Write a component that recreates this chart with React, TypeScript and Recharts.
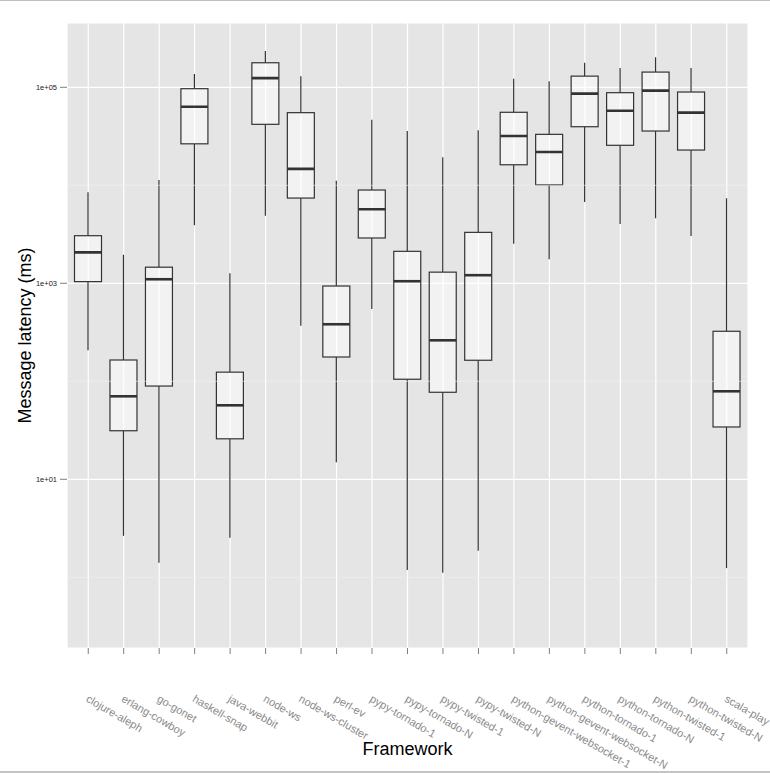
import { ComposedChart, Bar, XAxis, YAxis, CartesianGrid, ReferenceLine, Label } from "recharts";

// message latency per framework, in ms
const frameworks = [
  "clojure-aleph", "erlang-cowboy", "go-gonet", "haskell-snap", "java-webbit",
  "node-ws", "node-ws-cluster", "perl-ev", "pypy-tornado-1", "pypy-tornado-N",
  "pypy-twisted-1", "pypy-twisted-N", "python-gevent-websocket-1", "python-gevent-websocket-N",
  "python-tornado-1", "python-tornado-N", "python-twisted-1", "python-twisted-N", "scala-play",
];
const whiskerLow = [208, 2.65, 1.41, 3910, 2.54, 4900, 369, 14.9, 547, 1.19, 1.11, 1.87, 2540, 1760, 6760, 4030, 4600, 3040, 1.24];
const lowerQuartile = [1040, 31.3, 89.5, 26500, 25.9, 41900, 7410, 177, 2900, 105, 77.3, 164, 16200, 10100, 39600, 25600, 35800, 22900, 34.2];
const medians = [2070, 70.3, 1100, 63400, 56.9, 124000, 14700, 382, 5690, 1050, 262, 1210, 31800, 21900, 86100, 57700, 92500, 55100, 79.1];
const upperQuartile = [3060, 165, 1460, 96800, 124, 178000, 55100, 938, 8950, 2120, 1300, 3310, 55600, 33100, 130000, 88100, 143000, 89500, 324];
const whiskerHigh = [8490, 1960, 11300, 137000, 1270, 234000, 130000, 11100, 46700, 35800, 19300, 36400, 122000, 115000, 178000, 157000, 202000, 157000, 7360];

const yTicks = [10, 1000, 100000];
const minorTicks = [1, 100, 10000];

const data = frameworks.map((name, i) => ({
  name,
  min: whiskerLow[i],
  q1: lowerQuartile[i],
  median: medians[i],
  q3: upperQuartile[i],
  max: whiskerHigh[i],
}));

const ink = "#333333";

function BoxShape(props: any) {
  const { x, y, width, height, payload } = props;
  const lmax = Math.log10(payload.max);
  const lmin = Math.log10(payload.min);
  const py = (v: number) => y + (height * (lmax - Math.log10(v))) / (lmax - lmin);
  const cx = x + width / 2;
  const top = py(payload.q3);
  const bot = py(payload.q1);
  const med = py(payload.median);
  return (
    <g>
      <line x1={cx} x2={cx} y1={y} y2={top} stroke={ink} strokeWidth={1.2} />
      <line x1={cx} x2={cx} y1={bot} y2={y + height} stroke={ink} strokeWidth={1.2} />
      <rect x={x} y={top} width={width} height={bot - top} fill="#ffffff" fillOpacity={0.5} stroke={ink} strokeWidth={1.2} />
      <line x1={x} x2={x + width} y1={med} y2={med} stroke={ink} strokeWidth={2.6} />
    </g>
  );
}

function FrameworkTick({ x, y, payload }: any) {
  const tx = x - 3;
  const ty = y + 45;
  return (
    <text x={tx} y={ty} transform={`rotate(30 ${tx} ${ty})`} fontSize={11} fill="#8a8a8a">
      {payload.value}
    </text>
  );
}

const sci = (v: number) => {
  const e = Math.round(Math.log10(v));
  return `1e${e < 0 ? "-" : "+"}${String(Math.abs(e)).padStart(2, "0")}`;
};

export default function App() {
  return (
    <div style={{ position: "absolute", left: 0, top: 0, width: 770, height: 773, background: "#fff", fontFamily: "'Liberation Sans', Arial, sans-serif" }}>
      <div style={{ position: "absolute", left: 0, top: 0, width: 770, height: 1, background: "#bdbdbd" }} />
      <ComposedChart width={770} height={773} data={data} margin={{ top: 23, right: 22, left: 0, bottom: 0 }}>
        <CartesianGrid fill="#E5E5E5" stroke="#ffffff" strokeWidth={1.2} />
        {minorTicks.map((t) => (
          <ReferenceLine key={t} y={t} stroke="#F2F2F2" strokeWidth={0.6} />
        ))}
        <XAxis
          dataKey="name"
          interval={0}
          height={125}
          padding={{ left: 3.5, right: 3.5 }}
          axisLine={false}
          tickSize={6}
          tickLine={{ stroke: "#7f7f7f" }}
          tick={<FrameworkTick />}
        >
          <Label
            content={({ viewBox }: any) => (
              <text x={viewBox.x + viewBox.width / 2} y={755} textAnchor="middle" fontSize={18} fill="#000">
                Framework
              </text>
            )}
          />
        </XAxis>
        <YAxis
          scale="log"
          domain={[0.19, 453000]}
          allowDataOverflow
          ticks={yTicks}
          tickFormatter={sci}
          width={67}
          axisLine={false}
          tickSize={7}
          tickMargin={3}
          tickLine={{ stroke: "#7f7f7f" }}
          tick={{ fontSize: 7.5, fill: "#222" }}
        >
          <Label
            content={({ viewBox }: any) => {
              const cy = viewBox.y + viewBox.height / 2;
              return (
                <text x={30.5} y={cy} transform={`rotate(-90 30.5 ${cy})`} textAnchor="middle" fontSize={18} fill="#000">
                  Message latency (ms)
                </text>
              );
            }}
          />
        </YAxis>
        <Bar dataKey={(d: any) => [d.min, d.max]} barSize={27} shape={<BoxShape />} isAnimationActive={false} />
      </ComposedChart>
      <div style={{ position: "absolute", left: 0, top: 771, width: 770, height: 2, background: "#c4c4c4" }} />
    </div>
  );
}
